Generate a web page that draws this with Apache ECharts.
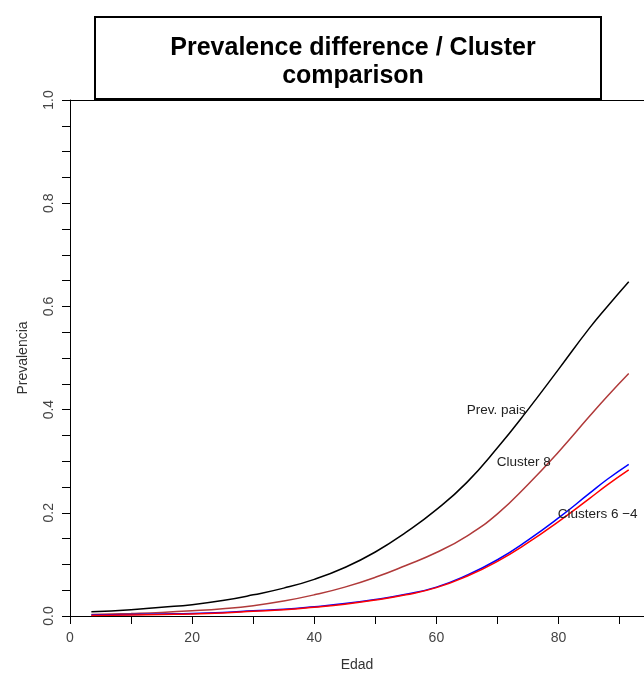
<!DOCTYPE html>
<html>
<head>
<meta charset="utf-8">
<script src="https://cdn.jsdelivr.net/npm/echarts@6/dist/echarts.min.js"></script>
<style>
  html, body { margin: 0; padding: 0; background: #fff; }
  #chart { width: 644px; height: 677px; }
</style>
</head>
<body>
<div id="chart"></div>
<script>
// edad (x) y prevalencias
const edades = [3.5, 10, 15, 20, 25, 30, 35, 40, 45, 50, 55, 60, 65, 70, 75, 80, 85, 88, 91.5];
const prevPais = [0.008, 0.012, 0.017, 0.022, 0.030, 0.041, 0.054, 0.071, 0.094, 0.124, 0.162, 0.206, 0.259, 0.326, 0.400, 0.478, 0.557, 0.600, 0.648];
const cluster8 = [0.003, 0.005, 0.007, 0.010, 0.014, 0.020, 0.029, 0.041, 0.056, 0.075, 0.098, 0.123, 0.155, 0.198, 0.255, 0.318, 0.386, 0.426, 0.470];
const cluster6 = [0.002, 0.003, 0.004, 0.005, 0.007, 0.010, 0.013, 0.018, 0.024, 0.032, 0.042, 0.056, 0.079, 0.109, 0.147, 0.190, 0.237, 0.265, 0.294];
const cluster4 = [0.001, 0.002, 0.003, 0.004, 0.006, 0.009, 0.012, 0.017, 0.023, 0.031, 0.041, 0.055, 0.077, 0.106, 0.142, 0.183, 0.227, 0.254, 0.283];

const xTicks = [0, 10, 20, 30, 40, 50, 60, 70, 80, 90];
const xLabels = [0, 20, 40, 60, 80];
const yTicks = [0, 0.05, 0.1, 0.15, 0.2, 0.25, 0.3, 0.35, 0.4, 0.45, 0.5, 0.55, 0.6, 0.65, 0.7, 0.75, 0.8, 0.85, 0.9, 0.95, 1];
const yLabels = [0, 0.2, 0.4, 0.6, 0.8, 1];

// etiquetas de las curvas [edad, prevalencia, texto]
const etiquetas = [
  [69.8, 0.399, 'Prev. pais'],
  [74.3, 0.297, 'Cluster 8'],
  [86.4, 0.198, 'Clusters 6 \u22124'],
];

const pares = (ys) => edades.map((x, i) => [x, ys[i]]);

const chart = echarts.init(document.getElementById('chart'));
const fuente = 'Liberation Sans, Arial, sans-serif';

const linea = (name, ys, color) => ({
  name,
  type: 'line',
  data: pares(ys),
  smooth: 0.5,
  showSymbol: false,
  lineStyle: { color, width: 1.5 },
  z: 3,
});

chart.setOption({
  animation: false,
  title: {
    text: 'Prevalence difference / Cluster\ncomparison',
    left: 348,
    top: 29,
    textAlign: 'center',
    textStyle: { fontFamily: fuente, fontSize: 25, fontWeight: 'bold', color: '#000', lineHeight: 28 },
  },
  graphic: [
    {
      type: 'rect',
      shape: { x: 95, y: 17, width: 506, height: 82 },
      style: { fill: 'transparent', stroke: '#000', lineWidth: 2 },
      z: 10,
    },
  ],
  grid: { left: 70, right: 0, top: 100, bottom: 61 },
  xAxis: [
    {
      type: 'value',
      min: 0,
      max: 94,
      name: 'Edad',
      nameLocation: 'middle',
      nameGap: 42,
      nameTextStyle: { fontFamily: fuente, fontSize: 14, color: '#333' },
      splitLine: { show: false },
      axisLine: { show: true, onZero: false, lineStyle: { color: '#000', width: 1 } },
      axisTick: { show: true, length: 8, customValues: xTicks, lineStyle: { color: '#000' } },
      axisLabel: { customValues: xLabels, margin: 15, fontFamily: fuente, fontSize: 14, color: '#444' },
    },
    {
      type: 'value',
      position: 'top',
      min: 0,
      max: 94,
      splitLine: { show: false },
      axisLine: { show: true, onZero: false, lineStyle: { color: '#000', width: 1 } },
      axisTick: { show: false },
      axisLabel: { show: false },
    },
  ],
  yAxis: {
    type: 'value',
    min: 0,
    max: 1,
    name: 'Prevalencia',
    nameLocation: 'middle',
    nameGap: 40,
    nameRotate: 90,
    nameTextStyle: { fontFamily: fuente, fontSize: 14, color: '#333' },
    splitLine: { show: false },
    axisLine: { show: true, onZero: false, lineStyle: { color: '#000', width: 1 } },
    axisTick: { show: true, length: 8, customValues: yTicks, lineStyle: { color: '#000' } },
    axisLabel: {
      customValues: yLabels,
      rotate: 90,
      margin: 14,
      fontFamily: fuente,
      fontSize: 14,
      color: '#444',
      formatter: (v) => v.toFixed(1),
    },
  },
  series: [
    linea('Prev. pais', prevPais, '#000000'),
    linea('Cluster 8', cluster8, '#b03a3a'),
    linea('Cluster 6', cluster6, '#0000ff'),
    Object.assign(linea('Cluster 4', cluster4, '#ff0000'), {
      markPoint: {
        symbol: 'circle',
        symbolSize: 0,
        silent: true,
        label: {
          show: true,
          position: 'inside',
          fontFamily: fuente,
          fontSize: 13.5,
          color: '#222',
          formatter: (p) => p.name,
        },
        data: etiquetas.map((e) => ({ coord: [e[0], e[1]], name: e[2], value: e[2] })),
      },
    }),
  ],
});
</script>
</body>
</html>
